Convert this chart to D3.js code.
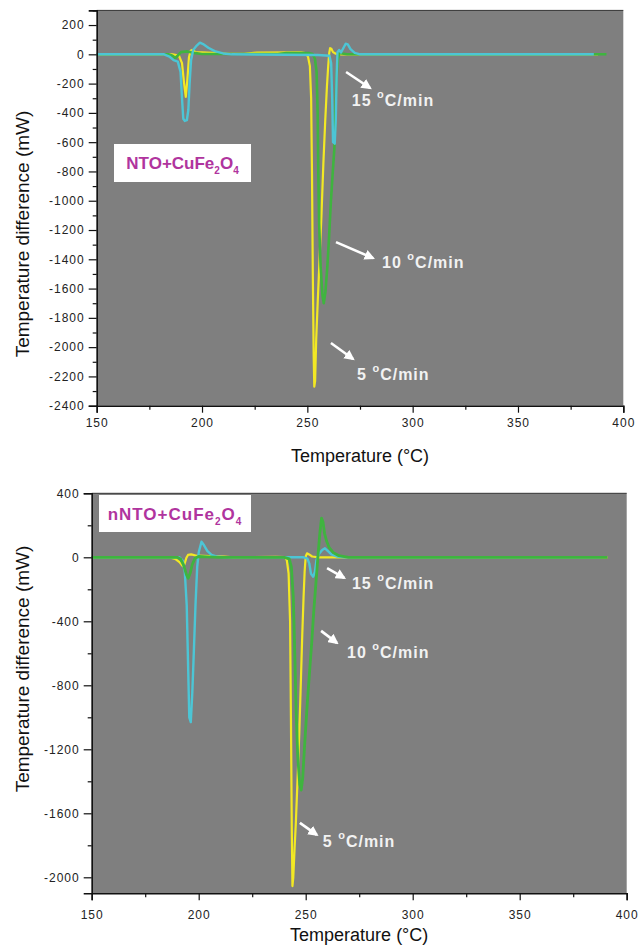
<!DOCTYPE html>
<html>
<head>
<meta charset="utf-8">
<script src="https://cdn.jsdelivr.net/npm/d3@7/dist/d3.min.js"></script>
<style>
  body { margin: 0; background: #fff; }
  text { font-family: 'Liberation Sans', Arial, sans-serif; }
</style>
</head>
<body>
<div id="chart"></div>
<script>
// [temperature (°C), heat flow (mW)]
const topRate5 = [[150,0],[186,0],[189,-8],[190.5,-60],[191.5,-200],[192.3,-290],[193,-180],[193.8,-20],[194.6,25],[195.3,30],[197,15],[205,10],[212,4],[220,3],[226,12],[247,14],[249,8],[250.3,-15],[251.2,-80],[251.8,-300],[252.2,-800],[252.6,-1500],[253,-2050],[253.3,-2270],[253.7,-2230],[254.2,-1950],[254.9,-1700],[255.8,-1400],[256.7,-1100],[257.6,-750],[258.5,-450],[259.3,-220],[259.9,-80],[260.4,10],[260.8,42],[261.4,38],[262.2,15],[263.5,4],[266,0],[388,0]];
const topRate10 = [[150,0],[184,0],[186,-10],[187.3,-25],[188.5,-8],[190,15],[193,20],[196,10],[200,2],[236,2],[240,8],[251,8],[252.5,2],[253.6,-30],[254.4,-120],[254.9,-400],[255.2,-800],[255.6,-1150],[256.3,-1450],[257.2,-1650],[257.8,-1700],[258.6,-1620],[259.5,-1450],[260.3,-1250],[261.2,-1000],[262,-820],[262.8,-650],[263.3,-400],[263.8,-180],[264.4,-40],[265.2,10],[266.5,6],[269,0],[392,0]];
const topRate15 = [[150,0],[182,0],[184.5,-15],[186.5,-40],[188.5,-50],[189.8,-120],[190.5,-300],[191.1,-440],[191.8,-455],[192.8,-450],[193.5,-380],[194.1,-200],[194.8,-40],[195.8,30],[197.5,60],[199,80],[200.5,70],[203,45],[206,22],[210,6],[214,0],[240,-3],[255,-5],[260.5,-10],[261.3,-60],[261.8,-300],[262.2,-600],[263,-610],[263.5,-450],[263.9,-150],[264.3,15],[265.1,30],[266,12],[267,40],[268.2,72],[269.2,68],[270.5,35],[272.5,10],[275,0],[386,0]];

const botRate5 = [[150,0],[186,0],[189,-10],[191,-30],[192.5,-55],[193.3,-45],[194.2,-5],[195,15],[196.5,18],[199,10],[205,7],[212,4],[216,0],[236,3],[240.3,2],[241.2,-20],[242,-100],[242.7,-400],[243.1,-1000],[243.5,-1700],[243.8,-2055],[244.2,-2000],[244.8,-1820],[245.4,-1660],[246.3,-1350],[247,-1100],[247.8,-750],[248.4,-480],[249,-250],[249.5,-90],[250,5],[250.6,25],[251.6,18],[253,5],[256,0],[391,0]];
const botRate10 = [[150,0],[190,0],[191.5,-10],[193,-50],[194.3,-110],[195.1,-131],[196,-100],[197,-45],[198.3,-5],[200,5],[204,3],[210,0],[240,0],[242.3,-10],[243.3,-60],[244.2,-250],[244.9,-600],[245.5,-950],[246.3,-1250],[247.2,-1420],[247.9,-1455],[248.6,-1380],[249.6,-1150],[250.8,-900],[252,-680],[252.8,-535],[253.8,-330],[255,-123],[255.8,20],[256.6,150],[257.4,244],[258.1,220],[258.8,150],[259.8,100],[261,60],[263,28],[265.5,10],[270,0],[391,0]];
const botRate15 = [[150,0],[191,0],[192.5,-20],[193.5,-90],[194.4,-300],[195,-650],[195.6,-1000],[196.3,-1030],[197,-850],[197.7,-600],[198.5,-300],[199.3,-60],[200,30],[201.3,97],[202.5,75],[204,40],[206,15],[209,3],[212,0],[249,0],[250.8,-8],[251.7,-40],[252.5,-105],[253.5,-121],[254.3,-90],[255,-20],[256.2,20],[257.7,45],[259,56],[260.3,40],[262,18],[264.5,5],[268,0],[388,0]];

// axis ticks
const xTicks = [150, 200, 250, 300, 350, 400];
const xMinor = [175, 225, 275, 325, 375];
const topYTicks = d3.range(-2400, 201, 200);
const topYMinor = d3.range(-2300, 301, 200);
const botYTicks = [-2000, -1600, -1200, -800, -400, 0, 400];
const botYMinor = [-1800, -1400, -1000, -600, -200, 200];

// rate labels: [text, arrow start T, v, arrow end T, v, text T, v]
const topNotes = [['15', 268.4, -121, 279.8, -230, 271.1, -355], ['10', 263.6, -1283, 281.2, -1392, 285.5, -1462], ['5', 261.2, -1972, 271.7, -2081, 273.6, -2225]];
const botNotes = [['15', 260.0, -67, 268.0, -129, 271.6, -200], ['10', 257.2, -460, 264.6, -535, 269.3, -630], ['5', 247.3, -1660, 255.2, -1735, 258.0, -1810]];

const colors = { r5: '#f2e824', r10: '#3fb43f', r15: '#4cc5d5' };

const svg = d3.select('#chart').append('svg')
  .attr('width', 638)
  .attr('height', 945);

const defs = svg.append('defs');
defs.append('marker')
  .attr('id', 'head')
  .attr('viewBox', '0 0 10 10')
  .attr('refX', 8)
  .attr('refY', 5)
  .attr('markerWidth', 4)
  .attr('markerHeight', 4)
  .attr('orient', 'auto')
  .append('path')
  .attr('d', 'M0,0L10,5L0,10z')
  .attr('fill', '#fff');

const drawPanel = (p) => {
  const x = d3.scaleLinear().domain([150, 400]).range([p.left, p.right]);
  const y = d3.scaleLinear().domain(p.yDomain).range([p.bottom, p.top]);
  const g = svg.append('g');

  g.append('rect')
    .attr('x', p.left)
    .attr('y', p.top)
    .attr('width', p.right - p.left)
    .attr('height', p.bottom - p.top)
    .attr('fill', '#7f7f7f');

  g.append('line')
    .attr('x1', p.left).attr('x2', p.right)
    .attr('y1', p.top).attr('y2', p.top)
    .attr('stroke', '#333').attr('stroke-width', 1);

  // curves
  const line = d3.line().x((d) => x(d[0])).y((d) => y(d[1]));
  p.series.forEach((s) => {
    g.append('path')
      .datum(s.data)
      .attr('d', line)
      .attr('fill', 'none')
      .attr('stroke', s.color)
      .attr('stroke-width', s.width)
      .attr('stroke-linejoin', 'round');
  });

  // axes
  const xAxis = g.append('g')
    .attr('transform', `translate(0,${p.bottom})`)
    .call(d3.axisBottom(x).tickValues(xTicks).tickSize(7).tickPadding(p.xPad).tickFormat(d3.format('d')));
  g.append('g')
    .attr('transform', `translate(0,${p.bottom})`)
    .call(d3.axisBottom(x).tickValues(xMinor).tickSize(4).tickFormat(''))
    .select('.domain').remove();
  const yAxis = g.append('g')
    .attr('transform', `translate(${p.left},0)`)
    .call(d3.axisLeft(y).tickValues(p.yTicks).tickSize(8).tickPadding(4).tickFormat((d) => String(d)));
  g.append('g')
    .attr('transform', `translate(${p.left},0)`)
    .call(d3.axisLeft(y).tickValues(p.yMinor).tickSize(4).tickFormat(''))
    .select('.domain').remove();

  g.selectAll('.domain').attr('stroke', '#111').attr('stroke-width', 1.6);
  g.selectAll('.tick line').attr('stroke', '#111').attr('stroke-width', 1.2);
  [xAxis, yAxis].forEach((a) => {
    a.selectAll('text')
      .attr('font-size', 12)
      .attr('fill', '#222')
      .attr('letter-spacing', '1px')
      .style('font-family', "'Liberation Sans', Arial, sans-serif");
  });

  // titles
  g.append('text')
    .attr('x', (p.left + p.right) / 2)
    .attr('y', p.xTitleY)
    .attr('text-anchor', 'middle')
    .attr('font-size', 18)
    .attr('fill', '#111')
    .text('Temperature (°C)');
  g.append('text')
    .attr('transform', `translate(29,${p.yTitleY}) rotate(-90)`)
    .attr('text-anchor', 'middle')
    .attr('font-size', 19)
    .attr('fill', '#111')
    .text('Temperature difference (mW)');

  // sample label
  g.append('rect')
    .attr('x', p.box[0]).attr('y', p.box[1])
    .attr('width', p.box[2]).attr('height', p.box[3])
    .attr('fill', '#fff');
  const lab = g.append('text')
    .attr('x', p.box[0] + p.box[2] / 2)
    .attr('y', p.box[1] + p.box[3] / 2 + 6)
    .attr('text-anchor', 'middle')
    .attr('font-size', 17)
    .attr('font-weight', 'bold')
    .attr('letter-spacing', p.labSpacing)
    .attr('fill', '#b0349e');
  lab.append('tspan').text(p.label);
  lab.append('tspan').attr('font-size', 10).attr('dy', 5).text('2');
  lab.append('tspan').attr('dy', -5).text('O');
  lab.append('tspan').attr('font-size', 10).attr('dy', 5).text('4');

  // rate notes
  p.notes.forEach((n) => {
    g.append('line')
      .attr('x1', x(n[1])).attr('y1', y(n[2]))
      .attr('x2', x(n[3])).attr('y2', y(n[4]))
      .attr('stroke', '#fff')
      .attr('stroke-width', 2.6)
      .attr('marker-end', 'url(#head)');
    const t = g.append('text')
      .attr('x', x(n[5]))
      .attr('y', y(n[6]))
      .attr('font-size', 16)
      .attr('font-weight', 'bold')
      .attr('letter-spacing', '1px')
      .attr('fill', '#f2f2f2');
    t.append('tspan').text(`${n[0]} `);
    t.append('tspan').attr('font-size', 11).attr('dy', -8).text('o');
    t.append('tspan').attr('dy', 8).text('C/min');
  });
};

drawPanel({
  left: 96.7, right: 623.3, top: 10.4, bottom: 405.7,
  yDomain: [-2400, 300], yTicks: topYTicks, yMinor: topYMinor,
  xPad: 6, xTitleY: 462, yTitleY: 234,
  box: [114, 144, 137, 38], label: 'NTO+CuFe', labSpacing: '0px',
  notes: topNotes,
  series: [
    { data: topRate5, color: colors.r5, width: 2.2 },
    { data: topRate10, color: colors.r10, width: 2.6 },
    { data: topRate15, color: colors.r15, width: 2.4 }
  ]
});

drawPanel({
  left: 91.7, right: 626.7, top: 493.3, bottom: 893.3,
  yDomain: [-2100, 400], yTicks: botYTicks, yMinor: botYMinor,
  xPad: 10, xTitleY: 941, yTitleY: 669,
  box: [99, 495, 152, 37], label: 'nNTO+CuFe', labSpacing: '1px',
  notes: botNotes,
  series: [
    { data: botRate5, color: colors.r5, width: 2.2 },
    { data: botRate15, color: colors.r15, width: 2.4 },
    { data: botRate10, color: colors.r10, width: 2.8 }
  ]
});
</script>
</body>
</html>
